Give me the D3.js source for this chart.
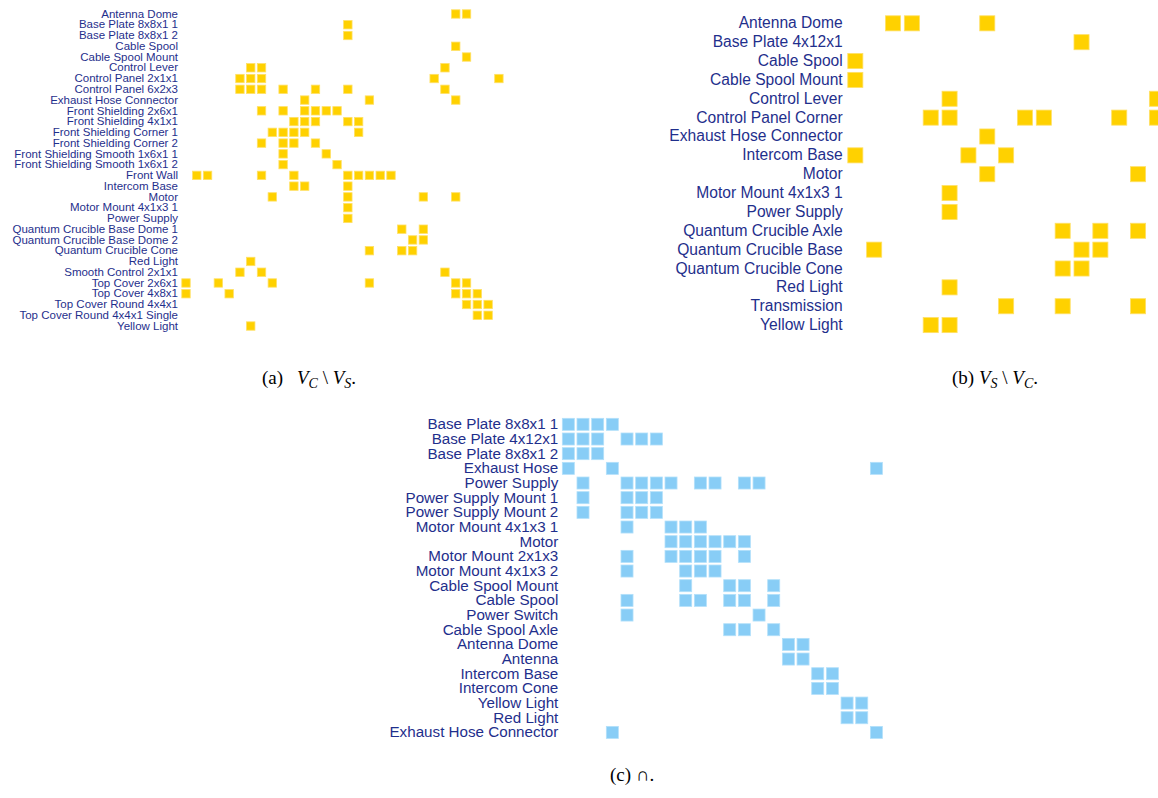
<!DOCTYPE html>
<html>
<head>
<meta charset="utf-8">
<script src="https://cdn.jsdelivr.net/npm/d3@7"></script>
<style>
  body { margin: 0; background: #fff; }
  svg { display: block; }
  .cap { font-family: "Liberation Serif", "Times New Roman", serif; font-size: 19px; fill: #000; }
</style>
</head>
<body>
<div id="fig"></div>
<script>
// (a) V_C \ V_S : row labels and, per row, the column indices that are set
const labelsA = ["Antenna Dome", "Base Plate 8x8x1 1", "Base Plate 8x8x1 2", "Cable Spool",
  "Cable Spool Mount", "Control Lever", "Control Panel 2x1x1", "Control Panel 6x2x3",
  "Exhaust Hose Connector", "Front Shielding 2x6x1", "Front Shielding 4x1x1",
  "Front Shielding Corner 1", "Front Shielding Corner 2", "Front Shielding Smooth 1x6x1 1",
  "Front Shielding Smooth 1x6x1 2", "Front Wall", "Intercom Base", "Motor", "Motor Mount 4x1x3 1",
  "Power Supply", "Quantum Crucible Base Dome 1", "Quantum Crucible Base Dome 2",
  "Quantum Crucible Cone", "Red Light", "Smooth Control 2x1x1", "Top Cover 2x6x1",
  "Top Cover 4x8x1", "Top Cover Round 4x4x1", "Top Cover Round 4x4x1 Single", "Yellow Light"];
const cellsA = [
  [25, 26], [15], [15], [25], [26], [6, 7, 24], [5, 6, 7, 23, 29], [5, 6, 7, 9, 12, 15, 24],
  [11, 17, 25], [7, 9, 11, 12, 13, 14], [10, 11, 12, 15, 16], [8, 9, 10, 11, 16], [7, 9, 10, 12],
  [9, 13], [9, 14], [1, 2, 7, 10, 15, 16, 17, 18, 19], [10, 11, 15], [8, 15, 22, 25], [15], [15],
  [20, 22], [21, 22], [17, 20, 21], [6], [5, 7, 24], [0, 3, 8, 17, 25, 26], [0, 4, 25, 26, 27],
  [26, 27, 28], [27, 28], [6]];

// (b) V_S \ V_C
const labelsB = ["Antenna Dome", "Base Plate 4x12x1", "Cable Spool", "Cable Spool Mount",
  "Control Lever", "Control Panel Corner", "Exhaust Hose Connector", "Intercom Base", "Motor",
  "Motor Mount 4x1x3 1", "Power Supply", "Quantum Crucible Axle", "Quantum Crucible Base",
  "Quantum Crucible Cone", "Red Light", "Transmission", "Yellow Light"];
const cellsB = [
  [2, 3, 7], [12], [0], [0], [5, 16], [4, 5, 9, 10, 14, 16], [7], [0, 6, 8], [7, 15], [5], [5],
  [11, 13, 15], [1, 12, 13], [11, 12], [5], [8, 11, 15], [4, 5]];

// (c) intersection
const labelsC = ["Base Plate 8x8x1 1", "Base Plate 4x12x1", "Base Plate 8x8x1 2", "Exhaust Hose",
  "Power Supply", "Power Supply Mount 1", "Power Supply Mount 2", "Motor Mount 4x1x3 1", "Motor",
  "Motor Mount 2x1x3", "Motor Mount 4x1x3 2", "Cable Spool Mount", "Cable Spool", "Power Switch",
  "Cable Spool Axle", "Antenna Dome", "Antenna", "Intercom Base", "Intercom Cone", "Yellow Light",
  "Red Light", "Exhaust Hose Connector"];
const cellsC = [
  [0, 1, 2, 3], [0, 1, 2, 4, 5, 6], [0, 1, 2], [0, 3, 21], [1, 4, 5, 6, 7, 9, 10, 12, 13],
  [1, 4, 5, 6], [1, 4, 5, 6], [4, 7, 8, 9], [7, 8, 9, 10, 11, 12], [4, 7, 8, 9, 10, 12],
  [4, 8, 9, 10], [8, 11, 12, 14], [4, 8, 9, 11, 12, 14], [4, 13], [11, 12, 14], [15, 16], [15, 16],
  [17, 18], [17, 18], [19, 20], [19, 20], [3, 21]];

const W = 1158, H = 798;
const svg = d3.select("#fig").append("svg")
    .attr("width", W).attr("height", H);

function drawPanel(labels, cells, o) {
    let g = svg.append("g");
    let y = d3.scaleBand()
        .domain(labels)
        .range([o.y0, o.y0 + o.ystep * labels.length])
        .paddingInner(o.pad).paddingOuter(o.pad / 2);
    let x = d3.scaleBand()
        .domain(d3.range(labels.length))
        .range([o.x0, o.x0 + o.xstep * labels.length])
        .paddingInner(o.pad).paddingOuter(o.pad / 2);

    let data = cells.flatMap((cs, r) => cs.map(c => ({ row: labels[r], col: c })));
    g.selectAll("rect").data(data).join("rect")
        .attr("x", d => x(d.col))
        .attr("y", d => y(d.row))
        .attr("width", x.bandwidth())
        .attr("height", y.bandwidth())
        .attr("fill", o.color)
        .attr("stroke", o.edge)
        .attr("stroke-width", 0.8);

    // row labels as a left axis without line or ticks
    g.append("g")
        .attr("transform", `translate(${o.x0},0)`)
        .call(d3.axisLeft(y).tickSize(0).tickPadding(o.tpad))
        .call(a => a.select(".domain").remove())
        .call(a => a.selectAll(".tick text")
            .attr("fill", "#1f2f8c")
            .attr("font-family", "'Liberation Sans', Arial, sans-serif")
            .attr("font-size", o.fs));
}

drawPanel(labelsA, cellsA, { x0: 180.6, y0: 8.6, xstep: 10.79, ystep: 10.76, pad: 0.22,
    color: "#ffd100", edge: "#ffe066", fs: "11.5px", tpad: 2.6 });
drawPanel(labelsB, cellsB, { x0: 845.9, y0: 13.9, xstep: 18.85, ystep: 18.86, pad: 0.2,
    color: "#ffd100", edge: "#ffe066", fs: "15.6px", tpad: 3.2 });
drawPanel(labelsC, cellsC, { x0: 561, y0: 417, xstep: 14.67, ystep: 14.67, pad: 0.18,
    color: "#88cdf6", edge: "#b3e0fa", fs: "15.2px", tpad: 2.7 });

// captions
function mathCaption(t, a, b) {
    t.append("tspan").attr("font-style", "italic").text("V");
    t.append("tspan").attr("font-style", "italic").attr("font-size", "14px").attr("dy", 4).text(a);
    t.append("tspan").attr("dy", -4).text(" \\ ");
    t.append("tspan").attr("font-style", "italic").text("V");
    t.append("tspan").attr("font-style", "italic").attr("font-size", "14px").attr("dy", 4).text(b);
    t.append("tspan").attr("dy", -4).text(".");
}
svg.append("text").attr("class", "cap").attr("x", 262).attr("y", 384).text("(a)");
mathCaption(svg.append("text").attr("class", "cap").attr("x", 297).attr("y", 384), "C", "S");
let tb = svg.append("text").attr("class", "cap").attr("x", 952).attr("y", 384);
tb.append("tspan").text("(b) ");
mathCaption(tb, "S", "C");
svg.append("text").attr("class", "cap").attr("x", 610).attr("y", 781).text("(c) \u2229.");
</script>
</body>
</html>
